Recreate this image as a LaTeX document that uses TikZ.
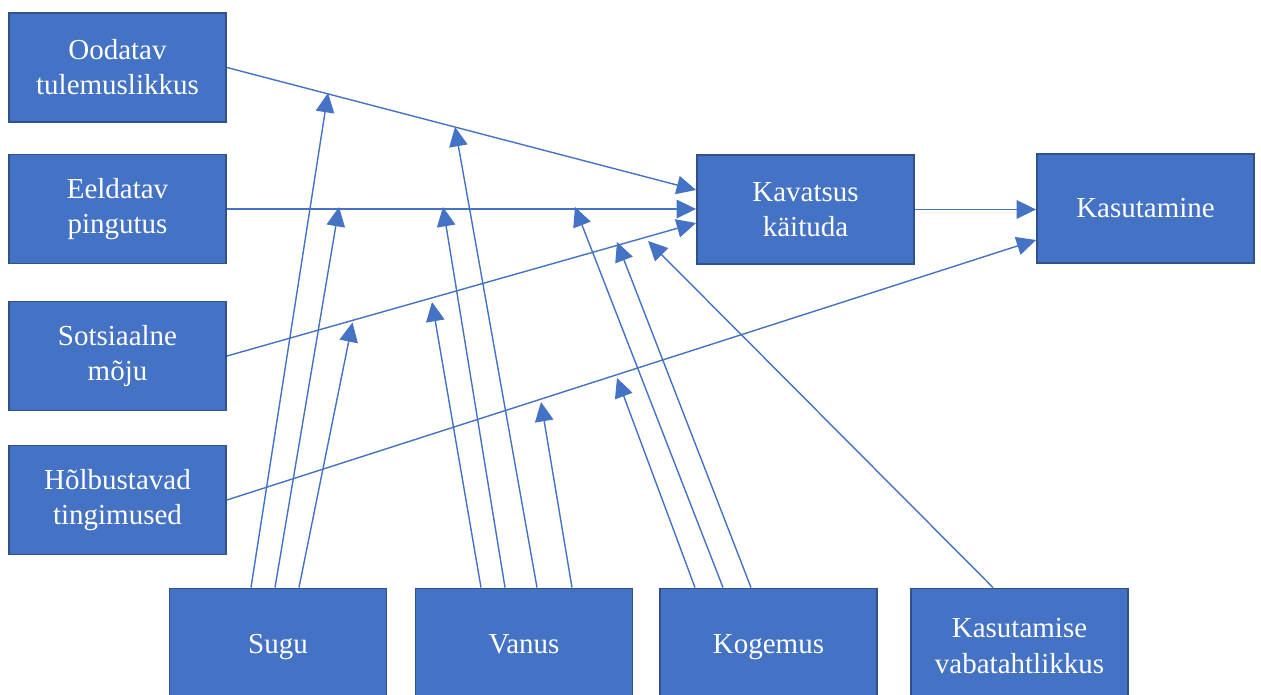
\documentclass[tikz,border=0pt]{standalone}
\usepackage{fontspec}
\setmainfont{Liberation Serif}
\usetikzlibrary{arrows.meta,calc}
\definecolor{boxblue}{HTML}{4472C4}
\definecolor{boxedge}{HTML}{2F528F}
\begin{document}
\begin{tikzpicture}[x=0.02cm, y=-0.02cm,
    factor/.style={draw=boxedge, line width=1.1pt, fill=boxblue, text=white,
        minimum width=4.34cm, minimum height=2.18cm, inner sep=0pt, align=center,
        font=\fontsize{16.5}{20}\selectfont},
    link/.style={draw=boxblue, line width=0.8pt, -{Triangle[length=11pt,width=10.5pt]}}]
    \useasboundingbox (0,0) rectangle (1261,695);

    % Left column of factors
    \node[factor] (oo) at (117.5,67.5) {Oodatav\\tulemuslikkus};
    \node[factor] (ee) at (117.5,209) {Eeldatav\\pingutus};
    \node[factor] (so) at (117.5,356) {Sotsiaalne\\mõju};
    \node[factor] (ho) at (117.5,500) {Hõlbustavad\\tingimused};

    % Intention and use
    \node[factor] (kav) at (805.5,209.5) {Kavatsus\\käituda};
    \node[factor] (kas) at (1145.5,208.5) {Kasutamine};

    % Moderators (bottom row, cut by the page edge)
    \node[factor, minimum height=2.3cm] (sugu) at (278,646) {\strut Sugu};
    \node[factor, minimum height=2.3cm] (van) at (524,646) {\strut Vanus};
    \node[factor, minimum height=2.3cm] (kog) at (768.5,646) {\strut Kogemus};
    \node[factor, minimum height=2.3cm] (vab) at (1019.5,646) {Kasutamise\\vabatahtlikkus};

    % Main paths
    \draw[link] (oo.east) -- ($(kav.west)+(0,-19.5)$);
    \draw[link] (ee.east) -- (kav.west |- ee.east);
    \draw[link] (so.east) -- ($(kav.west)+(0,13.5)$);
    \draw[link] (ho.east) -- ($(kas.west)+(0,31.5)$);
    \draw[link] (kav.east) -- (kas.west |- kav.east);

    % Where the moderator arrows meet the paths
    \coordinate (s1) at (328,93);
    \coordinate (s2) at (339,207);
    \coordinate (s3) at (352.5,322.5);
    \coordinate (v1) at (432,302);
    \coordinate (v2) at (443,207);
    \coordinate (v3) at (455,127);
    \coordinate (v4) at (541,402);
    \coordinate (k1) at (617,378);
    \coordinate (k2) at (575,207);
    \coordinate (k3) at (617,242);
    \coordinate (w1) at (648,241);

    % Sugu
    \draw[link] ($(sugu.north)+(-27,0)$) -- (s1);
    \draw[link] ($(sugu.north)+(-3,0)$) -- (s2);
    \draw[link] ($(sugu.north)+(21,0)$) -- (s3);

    % Vanus
    \draw[link] ($(van.north)+(-43,0)$) -- (v1);
    \draw[link] ($(van.north)+(-19,0)$) -- (v2);
    \draw[link] ($(van.north)+(13,0)$) -- (v3);
    \draw[link] ($(van.north)+(48,0)$) -- (v4);

    % Kogemus
    \draw[link] ($(kog.north)+(-73.5,0)$) -- (k1);
    \draw[link] ($(kog.north)+(-45.5,0)$) -- (k2);
    \draw[link] ($(kog.north)+(-17.5,0)$) -- (k3);

    % Kasutamise vabatahtlikkus
    \draw[link] ($(vab.north)+(-26.5,0)$) -- (w1);
\end{tikzpicture}
\end{document}
